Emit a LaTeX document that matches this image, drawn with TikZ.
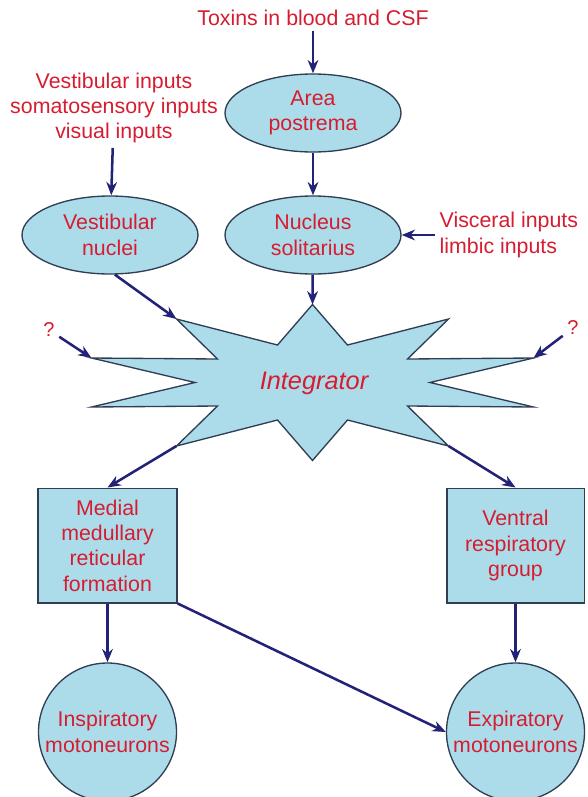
\documentclass[tikz,border=0pt]{standalone}
\usepackage{fontspec}
\setmainfont{Liberation Sans}
\usetikzlibrary{arrows.meta,shapes.geometric}
\definecolor{labred}{RGB}{214,28,48}
\definecolor{cellblue}{RGB}{172,220,234}
\definecolor{edgegray}{RGB}{48,62,84}
\definecolor{navy}{RGB}{34,34,120}

\begin{document}
\begin{tikzpicture}[x=0.75pt,y=-0.75pt,
    lbl/.style={text=labred,align=center,font=\fontsize{16}{19}\selectfont},
    oval/.style={lbl,ellipse,draw=edgegray,fill=cellblue,line width=1pt,minimum width=132pt,minimum height=58.5pt,inner sep=0pt},
    cell/.style={lbl,rectangle,draw=edgegray,fill=cellblue,line width=1pt,minimum height=86pt,inner sep=0pt},
    soma/.style={lbl,circle,draw=edgegray,fill=cellblue,line width=1pt,minimum size=103.5pt,inner sep=0pt},
    feed/.style={-{Stealth[length=10pt,width=8pt]},line width=1.9pt,navy}]
  \useasboundingbox (0,0) rectangle (587,797);
  % upper part: inputs and nuclei
  \node[lbl] (toxins) at (313,18) {Toxins in blood and CSF};
  \node[oval] (ap) at (313,113) {Area\\postrema};
  \node[lbl] (vestin) at (114,108) {Vestibular inputs\\somatosensory inputs\\visual inputs};
  \node[oval] (vn) at (110,235) {Vestibular\\nuclei};
  \node[oval] (ns) at (313,235) {Nucleus\\solitarius};
  \node[lbl,align=left,anchor=west] (visc) at (435,235) {Visceral inputs\\limbic inputs};
  \node[lbl,font=\fontsize{15}{17}\selectfont] (qleft) at (49,330) {?};
  \node[lbl,font=\fontsize{15}{17}\selectfont] (qright) at (573,328) {?};
  % the star
  \coordinate (topTip) at (312.5,304.5);
  \coordinate (urTip) at (448.5,319);
  \coordinate (rTip) at (533.5,358);
  \coordinate (rlTip) at (533.5,407);
  \coordinate (lrTip) at (448.5,446);
  \coordinate (botTip) at (312.5,460.5);
  \coordinate (llTip) at (176.5,446);
  \coordinate (lbTip) at (91.5,407);
  \coordinate (lTip) at (91.5,358);
  \coordinate (ulTip) at (176.5,319);
  \filldraw[fill=cellblue,draw=edgegray,line width=1pt,line join=miter]
    (topTip) -- (347.5,345) -- (urTip) -- (407.5,359) -- (rTip) -- (430,382.5)
    -- (rlTip) -- (407.5,406) -- (lrTip) -- (347.5,420) -- (botTip)
    -- (277.5,420) -- (llTip) -- (217.5,406) -- (lbTip) -- (195,382.5)
    -- (lTip) -- (217.5,359) -- (ulTip) -- (277.5,345) -- cycle;
  \node[lbl,font=\fontsize{19}{22}\selectfont\itshape] (integ) at (314,383) {Integrator};
  % lower part: premotor groups and motoneurons
  \node[cell,minimum width=104.25pt] (mmrf) at (107.5,545.5) {Medial\\medullary\\reticular\\formation};
  \node[cell,minimum width=103pt] (vrg) at (515.5,545.5) {Ventral\\respiratory\\group};
  \node[soma] (insp) at (107.5,732) {Inspiratory\\motoneurons};
  \node[soma] (expi) at (515.5,732) {Expiratory\\motoneurons};
  % connections
  \draw[feed] (toxins) -- (ap);
  \draw[feed] (ap) -- (ns);
  \draw[feed] (vestin) -- (vn);
  \draw[feed] (visc.west) -- (ns.east);
  \draw[feed] (vn.-83) -- (ulTip);
  \draw[feed] (ns) -- (topTip);
  \draw[feed] (qleft) -- (lTip);
  \draw[feed] (qright) -- (rTip);
  \draw[feed] (llTip) -- (mmrf.north);
  \draw[feed] (lrTip) -- (vrg.north);
  \draw[feed] (mmrf) -- (insp);
  \draw[feed] (vrg) -- (expi);
  \draw[feed] (mmrf.south east) -- (expi.west);
\end{tikzpicture}
\end{document}
